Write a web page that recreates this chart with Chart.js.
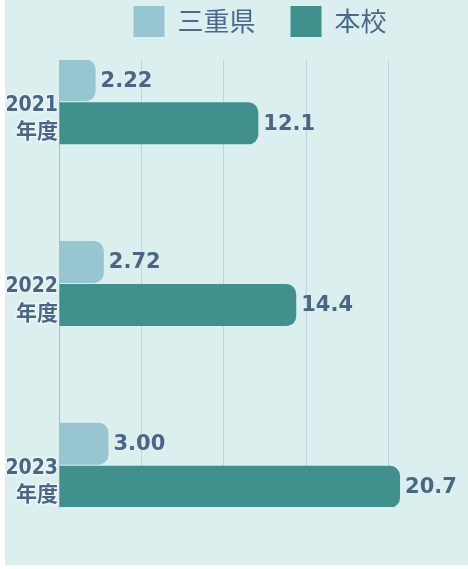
<!DOCTYPE html>
<html lang="ja">
<head>
<meta charset="utf-8">
<script src="https://cdn.jsdelivr.net/npm/chart.js@4"></script>
<style>
  html, body { margin: 0; padding: 0; background: #fff; }
  #wrap { position: absolute; left: 5px; top: 0; width: 463px; height: 565px; background: #dbf0ee; }
</style>
</head>
<body>
<div id="wrap"><canvas id="chart"></canvas></div>
<script>
// data
const years = ['2021', '2022', '2023'];
const yearSuffix = '年度';
const seriesNames = ['三重県', '本校'];
const mieValues = [2.22, 2.72, 3.00];
const schoolValues = [12.1, 14.4, 20.7];
const xTickStep = 5;

const textColor = '#4a6588';
const gridColor = '#bfd3d8';

// write the value just past the end of each bar
const valueLabels = {
    id: 'valueLabels',
    afterDatasetsDraw(chart) {
        const ctx = chart.ctx;
        ctx.save();
        ctx.font = 'bold 21px "DejaVu Sans"';
        ctx.fillStyle = textColor;
        ctx.textBaseline = 'middle';
        ctx.textAlign = 'left';
        chart.data.datasets.forEach((ds, i) => {
            chart.getDatasetMeta(i).data.forEach((bar, j) => {
                ctx.fillText(ds.data[j].x.toPrecision(3), bar.x + 5, bar.y + 1);
            });
        });
        ctx.restore();
    }
};

const toPoints = values => values.map((v, i) => ({ x: v, y: i }));

new Chart(document.getElementById('chart'), {
    type: 'bar',
    data: {
        datasets: [{
            label: seriesNames[0],
            data: toPoints(mieValues),
            backgroundColor: '#97c6d0',
            borderWidth: 0,
            borderRadius: 10
        }, {
            label: seriesNames[1],
            data: toPoints(schoolValues),
            backgroundColor: '#40908d',
            borderWidth: 0,
            borderRadius: 10
        }]
    },
    options: {
        indexAxis: 'y',
        responsive: true,
        maintainAspectRatio: false,
        animation: false,
        categoryPercentage: 0.474,
        barPercentage: 0.977,
        layout: { padding: { top: -29, right: 7, bottom: 58, left: 0 } },
        plugins: {
            tooltip: { enabled: false },
            legend: {
                position: 'top',
                fullSize: false,
                labels: {
                    boxWidth: 31,
                    boxHeight: 31,
                    padding: 35,
                    color: '#4b6990',
                    font: { family: '"Noto Sans CJK JP"', size: 26 }
                }
            }
        },
        scales: {
            x: {
                type: 'linear',
                position: 'top',
                min: 0,
                max: 24.4,
                ticks: { display: false, stepSize: xTickStep, includeBounds: false },
                grid: { color: gridColor, drawTicks: true, tickLength: 13, tickColor: 'transparent' },
                border: { display: false }
            },
            y: {
                type: 'linear',
                reverse: true,
                offset: false,
                min: -0.23,
                max: 2.23,
                afterFit: s => { s.width = 54; },
                grid: { display: false, drawTicks: false, offset: false },
                border: { display: true, color: '#a9bdcb', width: 1 },
                ticks: {
                    stepSize: 1,
                    includeBounds: false,
                    autoSkip: false,
                    padding: 1,
                    labelOffset: 17,
                    color: textColor,
                    textStrokeColor: '#eaf6f4',
                    textStrokeWidth: 3,
                    font: { family: '"DejaVu Sans Condensed", "Noto Sans CJK JP"', size: 21, weight: 'bold', lineHeight: 1.3 },
                    callback: v => Number.isInteger(v) && years[v] ? [years[v], yearSuffix] : ''
                }
            }
        }
    },
    plugins: [valueLabels]
});
</script>
</body>
</html>
